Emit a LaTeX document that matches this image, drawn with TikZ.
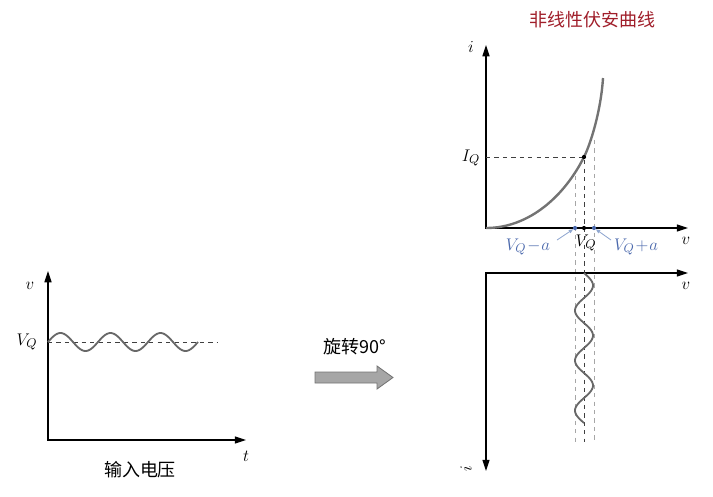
\documentclass[tikz,border=0pt]{standalone}
\usepackage{fontspec}
\newfontfamily\cjk{Noto Sans CJK SC}
\usetikzlibrary{arrows.meta}
\definecolor{titlered}{HTML}{A01E2A}
\definecolor{curvegray}{HTML}{737373}
\definecolor{labelblue}{HTML}{4A68AC}
\definecolor{pointblue}{HTML}{8FA6CF}
\tikzset{
    %Define standard arrow tip
    >={Triangle[length=8pt,width=5pt]},
    %Define style for axes
    axis/.style={
           line width=0.8pt,
           black},
    %Define style for the curve and the waves
    curve/.style={
           line width=1.7pt,
           curvegray},
    wave/.style={
           line width=1.3pt,
           curvegray!90!black},
    % Define dashed guide lines
    guide/.style={
           dashed,
           line width=0.5pt,
           black!75},
    guidelight/.style={
           dashed,
           line width=0.5pt,
           black!35},
    % Define labels
    lbl/.style={
           font=\fontsize{12.5}{14}\selectfont,
           inner sep=1pt},
    cjktext/.style={
           font=\cjk\fontsize{12.8}{15}\selectfont,
           inner sep=1pt},
    dot/.style={
           circle,
           inner sep=0pt,
           minimum size=3pt},
    pointer/.style={
           -{Triangle[length=3pt,width=2.5pt]},
           line width=0.6pt,
           pointblue}
}

\begin{document}
\begin{tikzpicture}[x=0.025cm,y=-0.025cm]
\useasboundingbox (0,0) rectangle (713,496);

% title
\node[cjktext, text=titlered](title) at (592,20){非线性伏安曲线};

% upper graph
\coordinate (O1) at (486,228);
\coordinate (itop) at (486,45);
\coordinate (vright) at (688,228);
\draw[axis,<->] (itop) -- (O1) -- (vright);
\node[lbl](ilab) at (471,47){$i$};
\node[lbl](vlab) at (686,241){$v$};

\coordinate (IQ) at (486,157);
\coordinate (Q) at (584,157);
\coordinate (Qbot) at (584,442);
\coordinate (Ctop) at (603,78);
\draw[curve] (O1) .. controls (530,228) and (565,195) .. (Q)
    .. controls (591,143) and (601,110) .. (Ctop);

\coordinate (Lt) at (575,176);
\coordinate (Lb) at (575,442);
\coordinate (Rt) at (594,140);
\coordinate (Rb) at (594,442);
\node[lbl](IQlab) at (471,158){$I_Q$};
\draw[guidelight] (Lt) -- (Lb);
\draw[guidelight] (Rt) -- (Rb);
\draw[guide] (IQ) -- (Q) -- (Qbot);
\node[dot, fill=black](Qdot) at (Q){};

\node[dot, fill=labelblue](dleft) at (575,228){};
\node[dot, fill=black](dmid) at (584,228){};
\node[dot, fill=labelblue](dright) at (594,228){};

\node[lbl, text=labelblue](VQm) at (528,247){$V_Q\!-\!a$};
\node[lbl](VQ) at (586,243){$V_Q$};
\node[lbl, text=labelblue](VQp) at (636,247){$V_Q\!+\!a$};
\coordinate (pm) at (557,240);
\coordinate (pp) at (611,240);
\draw[pointer] (pm) -- (dleft);
\draw[pointer] (pp) -- (dright);

% lower graph (rotated)
\coordinate (O2) at (486,273);
\coordinate (vright2) at (688,273);
\coordinate (ibot) at (486,471);
\draw[axis,<->] (ibot) -- (O2) -- (vright2);
\node[lbl](vlab2) at (686,286){$v$};
\node[lbl, rotate=90](ilab2) at (466,469){$i$};
\draw[wave] plot[domain=0:150, samples=120] ({584+9*sin(\x*7.2)},{273+\x});

% left graph: input voltage
\coordinate (O3) at (48,440);
\coordinate (vtop) at (48,271);
\coordinate (tright) at (246,440);
\draw[axis,<->] (vtop) -- (O3) -- (tright);
\node[lbl](vlab3) at (30,286){$v$};
\node[lbl](tlab) at (246,456){$t$};
\node[lbl](VQlab3) at (27,342){$V_Q$};
\coordinate (Ql) at (48,342);
\coordinate (Qr) at (217,342);
\draw[guide] (Ql) -- (Qr);
\draw[wave] plot[domain=0:150, samples=120] ({48+\x},{342-9*sin(\x*7.2)});
\node[cjktext](input) at (140,470){输入电压};

% rotation arrow
\draw[fill=black!35, draw=black!55, line width=0.6pt]
    (315,372) -- (377,372) -- (377,366) -- (393,377.5) -- (377,389) -- (377,383) -- (315,383) -- cycle;
\node[cjktext](rot) at (355,347){旋转90°};

\end{tikzpicture}
\end{document}
